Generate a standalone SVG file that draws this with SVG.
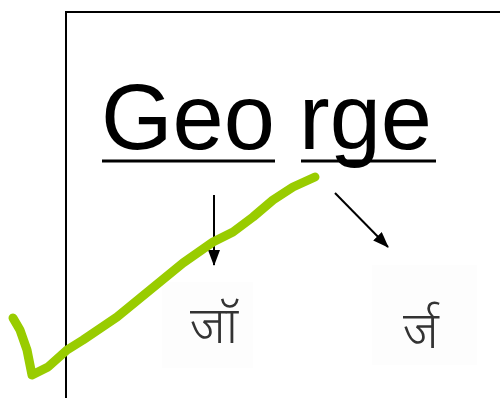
<svg xmlns="http://www.w3.org/2000/svg" width="500" height="398" viewBox="0 0 500 398">
<style>
.big{font-family:"Liberation Sans",Arial,sans-serif;font-size:92px;fill:#000}
.hi{font-family:"Noto Sans","Noto Sans Devanagari",sans-serif;font-size:51px;font-weight:300;fill:#333;text-anchor:middle}
.ul{stroke:#000;stroke-width:3}
.conn{stroke:#000;stroke-width:2;fill:none}
.bg{fill:#fdfdfd}
</style>
<defs>
<marker id="ah" markerWidth="16" markerHeight="12" refX="15" refY="6" orient="auto" markerUnits="userSpaceOnUse">
<path d="M0,0 L16,6 L0,12 Z" fill="#000"/>
</marker>
</defs>
<rect width="500" height="398" fill="#fff"/>
<path d="M66,398 V12 H500" fill="none" stroke="#000" stroke-width="2"/>
<g id="geo">
<text class="big" x="101" y="149">Geo</text>
<line class="ul" x1="102" y1="161" x2="275" y2="161"/>
</g>
<g id="rge">
<text class="big" x="299" y="149">rge</text>
<line class="ul" x1="301" y1="161" x2="436" y2="161"/>
</g>
<g id="jo">
<rect class="bg" x="162" y="282" width="91" height="86"/>
<text class="hi" x="214" y="343">जॉ</text>
</g>
<g id="rj">
<rect class="bg" x="372" y="265" width="105" height="100"/>
<text class="hi" x="421" y="348">र्ज</text>
</g>
<g id="connectors">
<line class="conn" x1="214" y1="195" x2="214" y2="265" marker-end="url(#ah)"/>
<line class="conn" x1="335" y1="193" x2="388" y2="247" marker-end="url(#ah)"/>
</g>
<path d="M13,318 L20,330 L27,350 L32,375 L48,367 L67,350 L83,340 L117,317 L150,290 L183,263 L213,242 L233,232 L253,217 L273,200 L293,187 L315,177" fill="none" stroke="#99cc00" stroke-width="9" stroke-linecap="round" stroke-linejoin="round"/>
</svg>
